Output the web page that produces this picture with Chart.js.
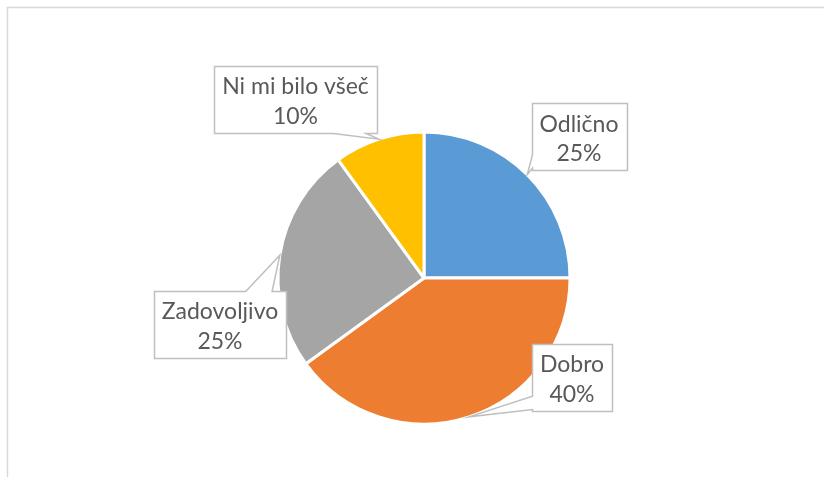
<!DOCTYPE html>
<html>
<head>
<meta charset="utf-8">
<script src="https://cdn.jsdelivr.net/npm/chart.js@4.4.0/dist/chart.umd.min.js"></script>
<style>
  html, body { margin: 0; padding: 0; background: #fff; }
  #wrap { width: 824px; height: 477px; }
</style>
</head>
<body>
<div id="wrap"><canvas id="plot" width="824" height="477"></canvas></div>
<script>
// podatki iz grafa
let categories = ["Odlično", "Dobro", "Zadovoljivo", "Ni mi bilo všeč"];
let values = [25, 40, 25, 10];
let percentLabels = ["25%", "40%", "25%", "10%"];

// postavitev oznak (odmik sredine okvirja od sredine torte) in stranica s puščico
let calloutLayout = [
  { dx: 155, dy: -141.5, side: "left" },
  { dx: 148, dy: 99, side: "left" },
  { dx: -204, dy: 46, side: "top" },
  { dx: -128.5, dy: -179, side: "bottom" },
];

let calloutPlugin = {
  id: "callouts",
  beforeDraw: (chart) => {
    let ctx = chart.ctx;
    //okvir grafa
    ctx.save();
    ctx.strokeStyle = "#d9d9d9";
    ctx.lineWidth = 1.5;
    ctx.strokeRect(7.5, 7.5, 900, 600);
    ctx.restore();
  },
  afterDraw: (chart) => {
    let ctx = chart.ctx;
    let arcs = chart.getDatasetMeta(0).data;
    ctx.save();
    ctx.font = "23px Lato";
    let lineH = 29.5;
    arcs.forEach((arc, i) => {
      let lay = calloutLayout[i];
      let mid = (arc.startAngle + arc.endAngle) / 2;
      let tx = arc.x + Math.cos(mid) * arc.outerRadius;
      let ty = arc.y + Math.sin(mid) * arc.outerRadius;
      let cx = arc.x + lay.dx;
      let cy = arc.y + lay.dy;
      let tw = Math.max(ctx.measureText(categories[i]).width, ctx.measureText(percentLabels[i]).width);
      let w = Math.round(tw + 16);
      let h = 67;
      let L = Math.round(cx - w / 2) + 0.5, R = L + w;
      let T = Math.round(cy - h / 2) + 0.5, B = T + h;

      let horiz = lay.side === "top" || lay.side === "bottom";
      let len = horiz ? w : h;
      let hw = len * 0.1;
      let c0 = horiz ? cx : cy;
      let proj = horiz ? tx : ty;
      let c = c0 + 0.65 * (proj - c0);
      let lo = (horiz ? L : T) + hw, hi = (horiz ? R : B) - hw;
      c = Math.min(Math.max(c, lo), hi);

      ctx.beginPath();
      ctx.moveTo(L, T);
      if (lay.side === "top") { ctx.lineTo(c - hw, T); ctx.lineTo(tx, ty); ctx.lineTo(c + hw, T); }
      ctx.lineTo(R, T);
      if (lay.side === "right") { ctx.lineTo(R, c - hw); ctx.lineTo(tx, ty); ctx.lineTo(R, c + hw); }
      ctx.lineTo(R, B);
      if (lay.side === "bottom") { ctx.lineTo(c + hw, B); ctx.lineTo(tx, ty); ctx.lineTo(c - hw, B); }
      ctx.lineTo(L, B);
      if (lay.side === "left") { ctx.lineTo(L, c + hw); ctx.lineTo(tx, ty); ctx.lineTo(L, c - hw); }
      ctx.closePath();
      ctx.fillStyle = "#ffffff";
      ctx.fill();
      ctx.strokeStyle = "#bfbfbf";
      ctx.lineWidth = 1.5;
      ctx.stroke();

      ctx.fillStyle = "#595959";
      ctx.textAlign = "center";
      ctx.textBaseline = "alphabetic";
      ctx.fillText(categories[i], cx, cy - 5);
      ctx.fillText(percentLabels[i], cx, cy - 5 + lineH);
    });
    ctx.restore();
  },
};

let plotRef = document.getElementById("plot");

let config = {
  type: "pie",
  data: {
    labels: categories,
    datasets: [
      {
        data: values,
        backgroundColor: ["#5B9BD5", "#ED7D31", "#A5A5A5", "#FFC000"],
        borderColor: "#ffffff",
        borderWidth: 3,
      },
    ],
  },
  options: {
    responsive: false,
    animation: false,
    radius: 146,
    layout: { padding: { left: 24, right: 0, top: 79, bottom: 0 } },
    plugins: {
      legend: { display: false },
      tooltip: { enabled: false },
    },
  },
  plugins: [calloutPlugin],
};

let chart = new Chart(plotRef, config);
</script>
</body>
</html>
